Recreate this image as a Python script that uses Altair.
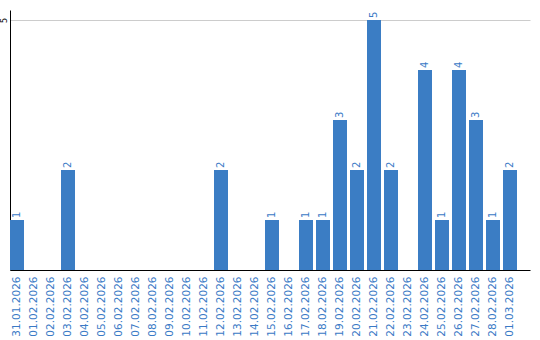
import altair as alt
import pandas as pd

dates = ["31.01.2026", "01.02.2026", "02.02.2026", "03.02.2026", "04.02.2026",
         "05.02.2026", "06.02.2026", "07.02.2026", "08.02.2026", "09.02.2026",
         "10.02.2026", "11.02.2026", "12.02.2026", "13.02.2026", "14.02.2026",
         "15.02.2026", "16.02.2026", "17.02.2026", "18.02.2026", "19.02.2026",
         "20.02.2026", "21.02.2026", "22.02.2026", "23.02.2026", "24.02.2026",
         "25.02.2026", "26.02.2026", "27.02.2026", "28.02.2026", "01.03.2026"]
values = [1, 0, 0, 2, 0, 0, 0, 0, 0, 0,
          0, 0, 2, 0, 0, 1, 0, 1, 1, 3,
          2, 5, 2, 0, 4, 1, 4, 3, 1, 2]

df = pd.DataFrame({"date": dates, "value": values})

BAR = "#3b7dc4"
TXT = "#3a7ac6"
FONT = "DejaVu Sans"

xscale = alt.Scale(paddingInner=3 / 17, paddingOuter=0.3823, align=0)

base = alt.Chart(df).encode(
    x=alt.X("date:N", sort=dates, scale=xscale, title=None,
            axis=alt.Axis(labelAngle=270, labelAlign="right", labelBaseline="middle",
                          ticks=False, labelPadding=6, labelColor=TXT, labelFont=FONT,
                          labelFontSize=10.5, domainColor="#000000", domainWidth=1,
                          labelOverlap=False)),
)

bars = base.mark_bar(color=BAR).encode(
    y=alt.Y("value:Q", scale=alt.Scale(domain=[0, 5.2], nice=False), title=None,
            axis=alt.Axis(values=[5], grid=True, gridColor="#cccccc", gridWidth=1,
                          ticks=False, labelAngle=270, labelAlign="center",
                          labelBaseline="bottom", labelPadding=2, labelColor="#000000",
                          labelFont=FONT, labelFontSize=8, domainColor="#000000",
                          domainWidth=1)),
)

text = base.mark_text(angle=270, align="left", baseline="middle", dx=2,
                      color=TXT, font=FONT, fontSize=10).encode(
    y=alt.Y("value:Q"),
    text=alt.Text("value:Q"),
).transform_filter(alt.datum.value > 0)

chart = (bars + text).properties(
    width=520, height=260,
    padding={"left": 10, "top": 10, "right": 10, "bottom": 70},
    autosize=alt.AutoSizeParams(type="none"),
    background="white",
).configure_view(stroke=None)

chart.save("out.html", embed_options={"renderer": "svg", "actions": False})
